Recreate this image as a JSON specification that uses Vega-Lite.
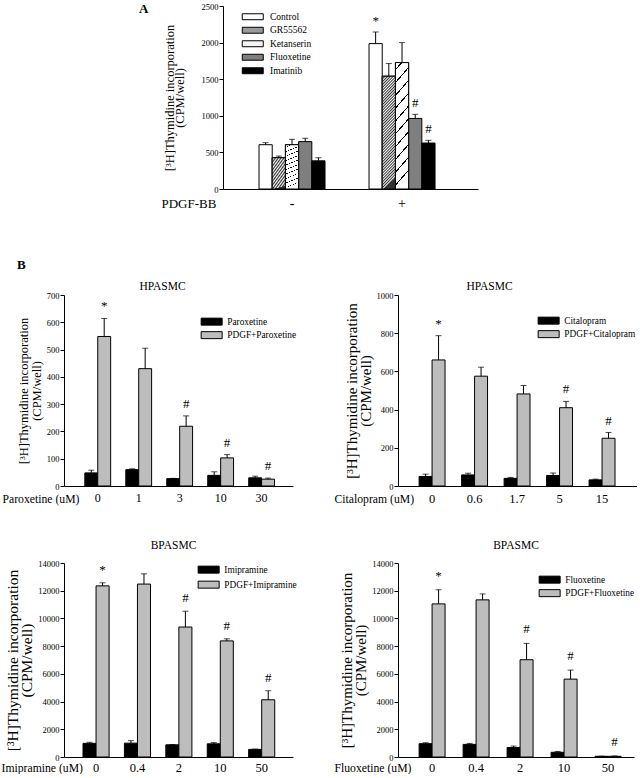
{
  "$schema": "https://vega.github.io/schema/vega-lite/v6.json",
  "padding": {"left": 1, "top": 2, "right": 0, "bottom": 0},
  "title": {"text": "A", "anchor": "start", "frame": "bounds", "dx": 138, "offset": -14, "fontSize": 13, "fontWeight": "bold"},
  "config": {
    "view": {"stroke": null},
    "font": "Liberation Serif",
    "axis": {"grid": false, "domainColor": "black", "tickColor": "black", "labelColor": "black", "titleColor": "black", "labelFont": "Liberation Serif", "titleFont": "Liberation Serif", "titleFontWeight": "normal", "domainWidth": 1, "tickWidth": 1, "labelOverlap": false},
    "axisY": {"tickSize": 4, "labelFontSize": 8.5, "labelPadding": 1, "labelOverlap": false},
    "axisX": {"ticks": false, "labelAngle": 0, "labelFontSize": 12, "titleAlign": "left", "titleBaseline": "middle", "titleFontSize": 11.7},
    "legend": {"labelFont": "Liberation Serif", "labelFontSize": 9.3, "labelColor": "black", "orient": "none", "title": null, "symbolType": "M-3,-1H3V1H-3Z", "symbolSize": 49, "symbolStrokeColor": "black", "symbolStrokeWidth": 1, "rowPadding": 1.5, "labelOffset": 11, "padding": 0},
    "title": {"font": "Liberation Serif", "fontWeight": "normal", "color": "black", "fontSize": 11.5},
    "text": {"font": "Liberation Serif"}
  },
  "datasets": {
    "a": [
      {"pdgf": "-", "treatment": "Control", "value": 605, "top": 633, "sig": ""},
      {"pdgf": "-", "treatment": "GR55562", "value": 427, "top": 450, "sig": ""},
      {"pdgf": "-", "treatment": "Ketanserin", "value": 605, "top": 679, "sig": ""},
      {"pdgf": "-", "treatment": "Fluoxetine", "value": 647, "top": 693, "sig": ""},
      {"pdgf": "-", "treatment": "Imatinib", "value": 385, "top": 427, "sig": ""},
      {"pdgf": "+", "treatment": "Control", "value": 1986, "top": 2145, "sig": "*"},
      {"pdgf": "+", "treatment": "GR55562", "value": 1541, "top": 1714, "sig": ""},
      {"pdgf": "+", "treatment": "Ketanserin", "value": 1727, "top": 2000, "sig": ""},
      {"pdgf": "+", "treatment": "Fluoxetine", "value": 964, "top": 1020, "sig": "#"},
      {"pdgf": "+", "treatment": "Imatinib", "value": 628, "top": 665, "sig": "#"}
    ],
    "b1": [
      {"dose": "0", "series": "Paroxetine", "value": 48, "top": 58, "sig": ""},
      {"dose": "0", "series": "PDGF+Paroxetine", "value": 548, "top": 614, "sig": "*"},
      {"dose": "1", "series": "Paroxetine", "value": 60, "top": 63, "sig": ""},
      {"dose": "1", "series": "PDGF+Paroxetine", "value": 430, "top": 505, "sig": ""},
      {"dose": "3", "series": "Paroxetine", "value": 27, "top": 28, "sig": ""},
      {"dose": "3", "series": "PDGF+Paroxetine", "value": 219, "top": 257, "sig": "#"},
      {"dose": "10", "series": "Paroxetine", "value": 39, "top": 52, "sig": ""},
      {"dose": "10", "series": "PDGF+Paroxetine", "value": 103, "top": 115, "sig": "#"},
      {"dose": "30", "series": "Paroxetine", "value": 30, "top": 36, "sig": ""},
      {"dose": "30", "series": "PDGF+Paroxetine", "value": 25, "top": 29, "sig": "#"}
    ],
    "b2": [
      {"dose": "0", "series": "Citalopram", "value": 50, "top": 62, "sig": ""},
      {"dose": "0", "series": "PDGF+Citalopram", "value": 660, "top": 787, "sig": "*"},
      {"dose": "0.6", "series": "Citalopram", "value": 58, "top": 67, "sig": ""},
      {"dose": "0.6", "series": "PDGF+Citalopram", "value": 575, "top": 622, "sig": ""},
      {"dose": "1.7", "series": "Citalopram", "value": 40, "top": 45, "sig": ""},
      {"dose": "1.7", "series": "PDGF+Citalopram", "value": 482, "top": 526, "sig": ""},
      {"dose": "5", "series": "Citalopram", "value": 55, "top": 68, "sig": ""},
      {"dose": "5", "series": "PDGF+Citalopram", "value": 410, "top": 443, "sig": "#"},
      {"dose": "15", "series": "Citalopram", "value": 32, "top": 36, "sig": ""},
      {"dose": "15", "series": "PDGF+Citalopram", "value": 250, "top": 280, "sig": "#"}
    ],
    "b3": [
      {"dose": "0", "series": "Imipramine", "value": 985, "top": 1060, "sig": ""},
      {"dose": "0", "series": "PDGF+Imipramine", "value": 12350, "top": 12570, "sig": "*"},
      {"dose": "0.4", "series": "Imipramine", "value": 1000, "top": 1180, "sig": ""},
      {"dose": "0.4", "series": "PDGF+Imipramine", "value": 12480, "top": 13220, "sig": ""},
      {"dose": "2", "series": "Imipramine", "value": 880, "top": 900, "sig": ""},
      {"dose": "2", "series": "PDGF+Imipramine", "value": 9380, "top": 10520, "sig": "#"},
      {"dose": "10", "series": "Imipramine", "value": 950, "top": 1040, "sig": ""},
      {"dose": "10", "series": "PDGF+Imipramine", "value": 8380, "top": 8530, "sig": "#"},
      {"dose": "50", "series": "Imipramine", "value": 550, "top": 570, "sig": ""},
      {"dose": "50", "series": "PDGF+Imipramine", "value": 4130, "top": 4780, "sig": "#"}
    ],
    "b4": [
      {"dose": "0", "series": "Fluoxetine", "value": 960, "top": 1030, "sig": ""},
      {"dose": "0", "series": "PDGF+Fluoxetine", "value": 11050, "top": 12070, "sig": "*"},
      {"dose": "0.4", "series": "Fluoxetine", "value": 910, "top": 980, "sig": ""},
      {"dose": "0.4", "series": "PDGF+Fluoxetine", "value": 11340, "top": 11770, "sig": ""},
      {"dose": "2", "series": "Fluoxetine", "value": 680, "top": 790, "sig": ""},
      {"dose": "2", "series": "PDGF+Fluoxetine", "value": 7020, "top": 8200, "sig": "#"},
      {"dose": "10", "series": "Fluoxetine", "value": 340, "top": 400, "sig": ""},
      {"dose": "10", "series": "PDGF+Fluoxetine", "value": 5620, "top": 6270, "sig": "#"},
      {"dose": "50", "series": "Fluoxetine", "value": 50, "top": 60, "sig": ""},
      {"dose": "50", "series": "PDGF+Fluoxetine", "value": 50, "top": 75, "sig": "#"}
    ]
  },
  "vconcat": [
    {
      "width": 255, "height": 183,
      "data": {"name": "a"},
      "encoding": {
        "x": {"field": "pdgf", "type": "nominal", "sort": ["-", "+"], "scale": {"paddingInner": 0.4, "paddingOuter": 0.359, "align": 0.456},
              "axis": {"title": "PDGF-BB", "titleX": -62, "titleY": 14, "titleFontSize": 13, "labelFontSize": 14, "labelPadding": 7}},
        "xOffset": {"field": "treatment", "type": "nominal", "sort": ["Control", "GR55562", "Ketanserin", "Fluoxetine", "Imatinib"], "scale": {"paddingInner": 0, "paddingOuter": 0}},
        "y": {"field": "value", "type": "quantitative", "scale": {"domain": [0, 2500]},
              "axis": {"values": [0, 500, 1000, 1500, 2000, 2500], "labelOverlap": false, "format": "d", "title": ["[³H]Thymidine incorporation", "(CPM/well)"], "titleFontSize": 12.5, "titleLineHeight": 10, "titlePadding": 15}}
      },
      "layer": [
        {
          "mark": {"type": "bar", "stroke": "black", "strokeWidth": 1},
          "encoding": {
            "fill": {"field": "treatment", "type": "nominal",
                     "scale": {"domain": ["Control", "GR55562", "Ketanserin", "Fluoxetine", "Imatinib"], "range": ["#ffffff", "#9a9a9a", "#f4f4f4", "#7f7f7f", "#000000"]},
                     "legend": {"legendX": 25, "legendY": 6, "labelFontSize": 9.5, "rowPadding": 2.5, "labelOffset": 12.5, "symbolType": "M-3,-0.85H3V0.85H-3Z"}}
          }
        },
        {
          "transform": [{"filter": "datum.treatment === 'GR55562'"}],
          "mark": {"type": "bar", "stroke": "black", "strokeWidth": 1,
                   "fill": {"gradient": "linear", "x1": 0, "y1": 0, "x2": 0.12, "y2": 1, "stops": [
                     {"offset": 0, "color": "#333333"}, {"offset": 0.0125, "color": "#ffffff"}, {"offset": 0.025, "color": "#333333"}, {"offset": 0.0375, "color": "#ffffff"},
                     {"offset": 0.05, "color": "#333333"}, {"offset": 0.0625, "color": "#ffffff"}, {"offset": 0.075, "color": "#333333"}, {"offset": 0.0875, "color": "#ffffff"},
                     {"offset": 0.1, "color": "#333333"}, {"offset": 0.1125, "color": "#ffffff"}, {"offset": 0.125, "color": "#333333"}, {"offset": 0.1375, "color": "#ffffff"},
                     {"offset": 0.15, "color": "#333333"}, {"offset": 0.1625, "color": "#ffffff"}, {"offset": 0.175, "color": "#333333"}, {"offset": 0.1875, "color": "#ffffff"},
                     {"offset": 0.2, "color": "#333333"}, {"offset": 0.2125, "color": "#ffffff"}, {"offset": 0.225, "color": "#333333"}, {"offset": 0.2375, "color": "#ffffff"},
                     {"offset": 0.25, "color": "#333333"}, {"offset": 0.2625, "color": "#ffffff"}, {"offset": 0.275, "color": "#333333"}, {"offset": 0.2875, "color": "#ffffff"},
                     {"offset": 0.3, "color": "#333333"}, {"offset": 0.3125, "color": "#ffffff"}, {"offset": 0.325, "color": "#333333"}, {"offset": 0.3375, "color": "#ffffff"},
                     {"offset": 0.35, "color": "#333333"}, {"offset": 0.3625, "color": "#ffffff"}, {"offset": 0.375, "color": "#333333"}, {"offset": 0.3875, "color": "#ffffff"},
                     {"offset": 0.4, "color": "#333333"}, {"offset": 0.4125, "color": "#ffffff"}, {"offset": 0.425, "color": "#333333"}, {"offset": 0.4375, "color": "#ffffff"},
                     {"offset": 0.45, "color": "#333333"}, {"offset": 0.4625, "color": "#ffffff"}, {"offset": 0.475, "color": "#333333"}, {"offset": 0.4875, "color": "#ffffff"},
                     {"offset": 0.5, "color": "#333333"}, {"offset": 0.5125, "color": "#ffffff"}, {"offset": 0.525, "color": "#333333"}, {"offset": 0.5375, "color": "#ffffff"},
                     {"offset": 0.55, "color": "#333333"}, {"offset": 0.5625, "color": "#ffffff"}, {"offset": 0.575, "color": "#333333"}, {"offset": 0.5875, "color": "#ffffff"},
                     {"offset": 0.6, "color": "#333333"}, {"offset": 0.6125, "color": "#ffffff"}, {"offset": 0.625, "color": "#333333"}, {"offset": 0.6375, "color": "#ffffff"},
                     {"offset": 0.65, "color": "#333333"}, {"offset": 0.6625, "color": "#ffffff"}, {"offset": 0.675, "color": "#333333"}, {"offset": 0.6875, "color": "#ffffff"},
                     {"offset": 0.7, "color": "#333333"}, {"offset": 0.7125, "color": "#ffffff"}, {"offset": 0.725, "color": "#333333"}, {"offset": 0.7375, "color": "#ffffff"},
                     {"offset": 0.75, "color": "#333333"}, {"offset": 0.7625, "color": "#ffffff"}, {"offset": 0.775, "color": "#333333"}, {"offset": 0.7875, "color": "#ffffff"},
                     {"offset": 0.8, "color": "#333333"}, {"offset": 0.8125, "color": "#ffffff"}, {"offset": 0.825, "color": "#333333"}, {"offset": 0.8375, "color": "#ffffff"},
                     {"offset": 0.85, "color": "#333333"}, {"offset": 0.8625, "color": "#ffffff"}, {"offset": 0.875, "color": "#333333"}, {"offset": 0.8875, "color": "#ffffff"},
                     {"offset": 0.9, "color": "#333333"}, {"offset": 0.9125, "color": "#ffffff"}, {"offset": 0.925, "color": "#333333"}, {"offset": 0.9375, "color": "#ffffff"},
                     {"offset": 0.95, "color": "#333333"}, {"offset": 0.9625, "color": "#ffffff"}, {"offset": 0.975, "color": "#333333"}, {"offset": 0.9875, "color": "#ffffff"},
                     {"offset": 1, "color": "#333333"}
                   ]}}
        },
        {
          "transform": [{"filter": "datum.treatment === 'Ketanserin'"}],
          "mark": {"type": "bar", "stroke": "black", "strokeWidth": 1,
                   "fill": {"gradient": "linear", "x1": 0, "y1": 0, "x2": 0.12, "y2": 1, "stops": [
                     {"offset": 0, "color": "#ffffff"},
                     {"offset": 0.05, "color": "#ffffff"}, {"offset": 0.05, "color": "#000000"}, {"offset": 0.062, "color": "#000000"}, {"offset": 0.062, "color": "#ffffff"},
                     {"offset": 0.15, "color": "#ffffff"}, {"offset": 0.15, "color": "#000000"}, {"offset": 0.162, "color": "#000000"}, {"offset": 0.162, "color": "#ffffff"},
                     {"offset": 0.25, "color": "#ffffff"}, {"offset": 0.25, "color": "#000000"}, {"offset": 0.262, "color": "#000000"}, {"offset": 0.262, "color": "#ffffff"},
                     {"offset": 0.35, "color": "#ffffff"}, {"offset": 0.35, "color": "#000000"}, {"offset": 0.362, "color": "#000000"}, {"offset": 0.362, "color": "#ffffff"},
                     {"offset": 0.45, "color": "#ffffff"}, {"offset": 0.45, "color": "#000000"}, {"offset": 0.462, "color": "#000000"}, {"offset": 0.462, "color": "#ffffff"},
                     {"offset": 0.55, "color": "#ffffff"}, {"offset": 0.55, "color": "#000000"}, {"offset": 0.562, "color": "#000000"}, {"offset": 0.562, "color": "#ffffff"},
                     {"offset": 0.65, "color": "#ffffff"}, {"offset": 0.65, "color": "#000000"}, {"offset": 0.662, "color": "#000000"}, {"offset": 0.662, "color": "#ffffff"},
                     {"offset": 0.75, "color": "#ffffff"}, {"offset": 0.75, "color": "#000000"}, {"offset": 0.762, "color": "#000000"}, {"offset": 0.762, "color": "#ffffff"},
                     {"offset": 0.85, "color": "#ffffff"}, {"offset": 0.85, "color": "#000000"}, {"offset": 0.862, "color": "#000000"}, {"offset": 0.862, "color": "#ffffff"},
                     {"offset": 0.95, "color": "#ffffff"}, {"offset": 0.95, "color": "#000000"}, {"offset": 0.962, "color": "#000000"}, {"offset": 0.962, "color": "#ffffff"},
                     {"offset": 1, "color": "#ffffff"}
                   ]}}
        },
        {"mark": {"type": "rule", "color": "black", "strokeWidth": 1}, "encoding": {"y2": {"field": "top"}}},
        {"mark": {"type": "tick", "color": "black", "size": 6, "thickness": 1},
         "encoding": {"y": {"field": "top", "type": "quantitative", "axis": {"values": [0, 500, 1000, 1500, 2000, 2500], "labelOverlap": false, "format": "d", "title": ["[³H]Thymidine incorporation", "(CPM/well)"], "titleFontSize": 12.5, "titleLineHeight": 10, "titlePadding": 15}}}},
        {"transform": [{"filter": "datum.sig !== ''"}], "mark": {"type": "text", "baseline": "middle", "dy": -11, "fontSize": 13, "color": "black"},
         "encoding": {"y": {"field": "top", "type": "quantitative", "axis": {"values": [0, 500, 1000, 1500, 2000, 2500], "labelOverlap": false, "format": "d", "title": ["[³H]Thymidine incorporation", "(CPM/well)"], "titleFontSize": 12.5, "titleLineHeight": 10, "titlePadding": 15}}, "text": {"field": "sig"}}}
      ]
    },
    {
      "title": {"text": "B", "anchor": "start", "frame": "bounds", "dx": 16, "offset": 9, "fontSize": 13, "fontWeight": "bold"},
      "spacing": 34,
      "resolve": {"scale": {"fill": "independent", "xOffset": "independent", "x": "independent", "y": "independent"}, "legend": {"fill": "independent"}},
      "vconcat": [
        {
          "hconcat": [
            {
              "width": 229, "height": 191,
              "data": {"name": "b1"},
              "title": {"text": "HPASMC", "baseline": "bottom", "offset": -12, "dx": -16},
              "encoding": {
                "x": {"field": "dose", "type": "nominal", "sort": ["0", "1", "3", "10", "30"], "scale": {"paddingInner": 0.37, "paddingOuter": 0.48, "align": 0.53},
                      "axis": {"title": "Paroxetine (uM)", "titleX": -62, "titleY": 12, "labelPadding": 6}},
                "xOffset": {"field": "series", "type": "nominal", "sort": ["Paroxetine", "PDGF+Paroxetine"], "scale": {"paddingInner": 0, "paddingOuter": 0}},
                "y": {"field": "value", "type": "quantitative", "scale": {"domain": [0, 700]},
                      "axis": {"values": [0, 100, 200, 300, 400, 500, 600, 700], "labelOverlap": false, "format": "d", "title": ["[³H]Thymidine incorporation", "(CPM/well)"], "titleFontSize": 12.5, "titleLineHeight": 13, "titlePadding": 3}}
              },
              "layer": [
                {"mark": {"type": "bar", "stroke": "black", "strokeWidth": 1},
                 "encoding": {
                   "fill": {"field": "series", "type": "nominal", "scale": {"domain": ["Paroxetine", "PDGF+Paroxetine"], "range": ["#000000", "#bdbdbd"]},
                            "legend": {"legendX": 143, "legendY": 22}}
                 }},
                {"mark": {"type": "rule", "color": "black"}, "encoding": {"y2": {"field": "top"}}},
                {"mark": {"type": "tick", "color": "black", "size": 6, "thickness": 1},
                 "encoding": {"y": {"field": "top", "type": "quantitative", "axis": {"values": [0, 100, 200, 300, 400, 500, 600, 700], "labelOverlap": false, "format": "d", "title": ["[³H]Thymidine incorporation", "(CPM/well)"], "titleFontSize": 12.5, "titleLineHeight": 13, "titlePadding": 3}}}},
                {"transform": [{"filter": "datum.sig !== ''"}], "mark": {"type": "text", "baseline": "middle", "dy": -12, "fontSize": 13, "color": "black"},
                 "encoding": {"y": {"field": "top", "type": "quantitative", "axis": {"values": [0, 100, 200, 300, 400, 500, 600, 700], "labelOverlap": false, "format": "d", "title": ["[³H]Thymidine incorporation", "(CPM/well)"], "titleFontSize": 12.5, "titleLineHeight": 13, "titlePadding": 3}}, "text": {"field": "sig"}}}
              ]
            },
            {
              "width": 239, "height": 191,
              "data": {"name": "b2"},
              "title": {"text": "HPASMC", "baseline": "bottom", "offset": -12, "dx": -28},
              "encoding": {
                "x": {"field": "dose", "type": "nominal", "sort": ["0", "0.6", "1.7", "5", "15"], "scale": {"paddingInner": 0.39, "paddingOuter": 0.507, "align": 0.49},
                      "axis": {"title": "Citalopram (uM)", "titleX": -64, "titleY": 12, "labelPadding": 6, "labelFontSize": 12.5}},
                "xOffset": {"field": "series", "type": "nominal", "sort": ["Citalopram", "PDGF+Citalopram"], "scale": {"paddingInner": 0, "paddingOuter": 0}},
                "y": {"field": "value", "type": "quantitative", "scale": {"domain": [0, 1000]},
                      "axis": {"values": [0, 200, 400, 600, 800, 1000], "labelOverlap": false, "format": "d", "title": ["[³H]Thymidine incorporation", "(CPM/well)"], "titleFontSize": 15, "titleLineHeight": 14, "titlePadding": 3}}
              },
              "layer": [
                {"mark": {"type": "bar", "stroke": "black", "strokeWidth": 1},
                 "encoding": {
                   "fill": {"field": "series", "type": "nominal", "scale": {"domain": ["Citalopram", "PDGF+Citalopram"], "range": ["#000000", "#bdbdbd"]},
                            "legend": {"legendX": 146, "legendY": 21}}
                 }},
                {"mark": {"type": "rule", "color": "black"}, "encoding": {"y2": {"field": "top"}}},
                {"mark": {"type": "tick", "color": "black", "size": 6, "thickness": 1},
                 "encoding": {"y": {"field": "top", "type": "quantitative", "axis": {"values": [0, 200, 400, 600, 800, 1000], "labelOverlap": false, "format": "d", "title": ["[³H]Thymidine incorporation", "(CPM/well)"], "titleFontSize": 15, "titleLineHeight": 14, "titlePadding": 3}}}},
                {"transform": [{"filter": "datum.sig !== ''"}], "mark": {"type": "text", "baseline": "middle", "dy": -12, "fontSize": 13, "color": "black"},
                 "encoding": {"y": {"field": "top", "type": "quantitative", "axis": {"values": [0, 200, 400, 600, 800, 1000], "labelOverlap": false, "format": "d", "title": ["[³H]Thymidine incorporation", "(CPM/well)"], "titleFontSize": 15, "titleLineHeight": 14, "titlePadding": 3}}, "text": {"field": "sig"}}}
              ]
            }
          ],
          "spacing": 105,
          "bounds": "flush",
          "resolve": {"scale": {"fill": "independent", "xOffset": "independent"}, "legend": {"fill": "independent"}}
        },
        {
          "hconcat": [
            {
              "width": 229, "height": 194,
              "data": {"name": "b3"},
              "title": {"text": "BPASMC", "baseline": "bottom", "offset": -3, "dx": -5},
              "encoding": {
                "x": {"field": "dose", "type": "nominal", "sort": ["0", "0.4", "2", "10", "50"], "scale": {"paddingInner": 0.37, "paddingOuter": 0.45, "align": 0.51},
                      "axis": {"title": "Imipramine (uM)", "titleX": -63, "titleY": 10, "labelPadding": 4, "labelFontSize": 12.5}},
                "xOffset": {"field": "series", "type": "nominal", "sort": ["Imipramine", "PDGF+Imipramine"], "scale": {"paddingInner": 0, "paddingOuter": 0}},
                "y": {"field": "value", "type": "quantitative", "scale": {"domain": [0, 14000]},
                      "axis": {"values": [0, 2000, 4000, 6000, 8000, 10000, 12000, 14000], "labelOverlap": false, "format": "d", "title": ["[³H]Thymidine incorporation", "(CPM/well)"], "titleFontSize": 15.5, "titleLineHeight": 14, "titlePadding": 3}}
              },
              "layer": [
                {"mark": {"type": "bar", "stroke": "black", "strokeWidth": 1},
                 "encoding": {
                   "fill": {"field": "series", "type": "nominal", "scale": {"domain": ["Imipramine", "PDGF+Imipramine"], "range": ["#000000", "#bdbdbd"]},
                            "legend": {"legendX": 140, "legendY": 2, "rowPadding": 3}}
                 }},
                {"mark": {"type": "rule", "color": "black"}, "encoding": {"y2": {"field": "top"}}},
                {"mark": {"type": "tick", "color": "black", "size": 6, "thickness": 1},
                 "encoding": {"y": {"field": "top", "type": "quantitative", "axis": {"values": [0, 2000, 4000, 6000, 8000, 10000, 12000, 14000], "labelOverlap": false, "format": "d", "title": ["[³H]Thymidine incorporation", "(CPM/well)"], "titleFontSize": 15.5, "titleLineHeight": 14, "titlePadding": 3}}}},
                {"transform": [{"filter": "datum.sig !== ''"}], "mark": {"type": "text", "baseline": "middle", "dy": -13, "fontSize": 13, "color": "black"},
                 "encoding": {"y": {"field": "top", "type": "quantitative", "axis": {"values": [0, 2000, 4000, 6000, 8000, 10000, 12000, 14000], "labelOverlap": false, "format": "d", "title": ["[³H]Thymidine incorporation", "(CPM/well)"], "titleFontSize": 15.5, "titleLineHeight": 14, "titlePadding": 3}}, "text": {"field": "sig"}}}
              ]
            },
            {
              "width": 236, "height": 194,
              "data": {"name": "b4"},
              "title": {"text": "BPASMC", "baseline": "bottom", "offset": -3},
              "encoding": {
                "x": {"field": "dose", "type": "nominal", "sort": ["0", "0.4", "2", "10", "50"], "scale": {"paddingInner": 0.41, "paddingOuter": 0.387, "align": 0.62},
                      "axis": {"title": "Fluoxetine (uM)", "titleX": -64, "titleY": 10, "labelPadding": 4, "labelFontSize": 12.5}},
                "xOffset": {"field": "series", "type": "nominal", "sort": ["Fluoxetine", "PDGF+Fluoxetine"], "scale": {"paddingInner": 0, "paddingOuter": 0}},
                "y": {"field": "value", "type": "quantitative", "scale": {"domain": [0, 14000]},
                      "axis": {"values": [0, 2000, 4000, 6000, 8000, 10000, 12000, 14000], "labelOverlap": false, "format": "d", "title": ["[³H]Thymidine incorporation", "(CPM/well)"], "titleFontSize": 15, "titleLineHeight": 14, "titlePadding": 3}}
              },
              "layer": [
                {"mark": {"type": "bar", "stroke": "black", "strokeWidth": 1},
                 "encoding": {
                   "fill": {"field": "series", "type": "nominal", "scale": {"domain": ["Fluoxetine", "PDGF+Fluoxetine"], "range": ["#000000", "#bdbdbd"]},
                            "legend": {"legendX": 147, "legendY": 12}}
                 }},
                {"mark": {"type": "rule", "color": "black"}, "encoding": {"y2": {"field": "top"}}},
                {"mark": {"type": "tick", "color": "black", "size": 6, "thickness": 1},
                 "encoding": {"y": {"field": "top", "type": "quantitative", "axis": {"values": [0, 2000, 4000, 6000, 8000, 10000, 12000, 14000], "labelOverlap": false, "format": "d", "title": ["[³H]Thymidine incorporation", "(CPM/well)"], "titleFontSize": 15, "titleLineHeight": 14, "titlePadding": 3}}}},
                {"transform": [{"filter": "datum.sig !== ''"}], "mark": {"type": "text", "baseline": "middle", "dy": -14, "fontSize": 13, "color": "black"},
                 "encoding": {"y": {"field": "top", "type": "quantitative", "axis": {"values": [0, 2000, 4000, 6000, 8000, 10000, 12000, 14000], "labelOverlap": false, "format": "d", "title": ["[³H]Thymidine incorporation", "(CPM/well)"], "titleFontSize": 15, "titleLineHeight": 14, "titlePadding": 3}}, "text": {"field": "sig"}}}
              ]
            }
          ],
          "spacing": 105,
          "bounds": "flush",
          "resolve": {"scale": {"fill": "independent", "xOffset": "independent"}, "legend": {"fill": "independent"}}
        }
      ]
    }
  ],
  "spacing": 48,
  "center": true,
  "resolve": {"scale": {"fill": "independent", "xOffset": "independent", "x": "independent", "y": "independent"}, "legend": {"fill": "independent"}}
}
